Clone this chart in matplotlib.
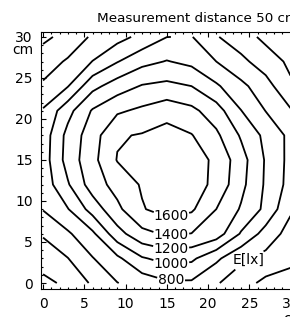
import matplotlib
matplotlib.use("Agg")
import numpy as np
import matplotlib.pyplot as plt
from matplotlib.ticker import MultipleLocator

# === DATA ===
x_cm = [0, 3, 6, 9, 12, 15, 18, 21, 24, 27, 30]
y_cm = [0, 3, 6, 9, 12, 15, 18, 21, 24, 27, 30]

# illuminance E[lx], one row per y value (bottom to top)
lux = [
    [150, 240, 430, 595, 680, 770, 770, 620, 480, 350, 320],
    [290, 395, 590, 758, 980, 1067, 1040, 840, 640, 540, 450],
    [420, 570, 760, 1123, 1343, 1427, 1395, 1306, 980, 720, 520],
    [610, 790, 1082, 1354, 1585, 1680, 1630, 1400, 1180, 952, 630],
    [680, 980, 1300, 1473, 1620, 1720, 1700, 1545, 1256, 972, 730],
    [700, 1078, 1341, 1610, 1700, 1740, 1690, 1560, 1280, 980, 740],
    [690, 1062, 1312, 1580, 1615, 1680, 1610, 1440, 1177, 948, 750],
    [620, 933, 1220, 1370, 1440, 1520, 1450, 1290, 1005, 795, 620],
    [430, 590, 940, 1100, 1215, 1250, 1200, 1030, 850, 680, 430],
    [300, 425, 605, 790, 940, 1010, 950, 800, 650, 500, 360],
    [160, 260, 430, 530, 655, 798, 810, 615, 490, 350, 250],
]

levels = [200, 400, 600, 800, 1000, 1200, 1400, 1600]
label_text = {200: "200", 400: "400", 600: "E[lx]", 800: "800",
              1000: "1000", 1200: "1200", 1400: "1400", 1600: "1600"}
label_at = [(15.5, 0.5), (15.5, 2.6), (15.5, 4.3), (15.5, 6.1), (15.5, 8.3),
            (25.1, 2.6)]

# === PLOT ===
plt.rcParams['font.family'] = ['DejaVu Sans']
plt.rcParams['font.size'] = 10

fig = plt.figure(figsize=(2.9, 3.17), dpi=100)
ax = fig.add_axes([41 / 290, 28 / 317, 266 / 290, 257 / 317])

X, Y = np.meshgrid(x_cm, y_cm)
cs = ax.contour(X, Y, np.array(lux), levels=levels, colors='black',
                linewidths=1.3)
labels = ax.clabel(cs, fmt=label_text, manual=label_at,
                   inline=True, inline_spacing=2, fontsize=10)
for t in labels:
    t.set_rotation(0)

ax.set_xlim(-0.25, 32)
ax.set_ylim(-0.73, 30.6)
ax.xaxis.set_major_locator(MultipleLocator(5))
ax.yaxis.set_major_locator(MultipleLocator(5))
ax.xaxis.set_minor_locator(MultipleLocator(1))
ax.yaxis.set_minor_locator(MultipleLocator(1))
ax.tick_params(which='both', direction='in', top=True, right=False,
               width=0.8)
ax.tick_params(which='major', length=3.5, pad=6)
ax.tick_params(which='minor', length=1.6)
for s in ax.spines.values():
    s.set_linewidth(0.8)
ax.spines['right'].set_visible(False)

fig.text(97 / 290, 1 - 19 / 317, "Measurement distance 50 cm",
         ha='left', va='center', fontsize=9.7)
fig.text(33 / 290, 1 - 54 / 317, "cm", ha='right', va='baseline', fontsize=10)
fig.text(283 / 290, 1 - 312 / 317, "cm", ha='left', va='top', fontsize=10)

fig.savefig("out.png", dpi=100)
